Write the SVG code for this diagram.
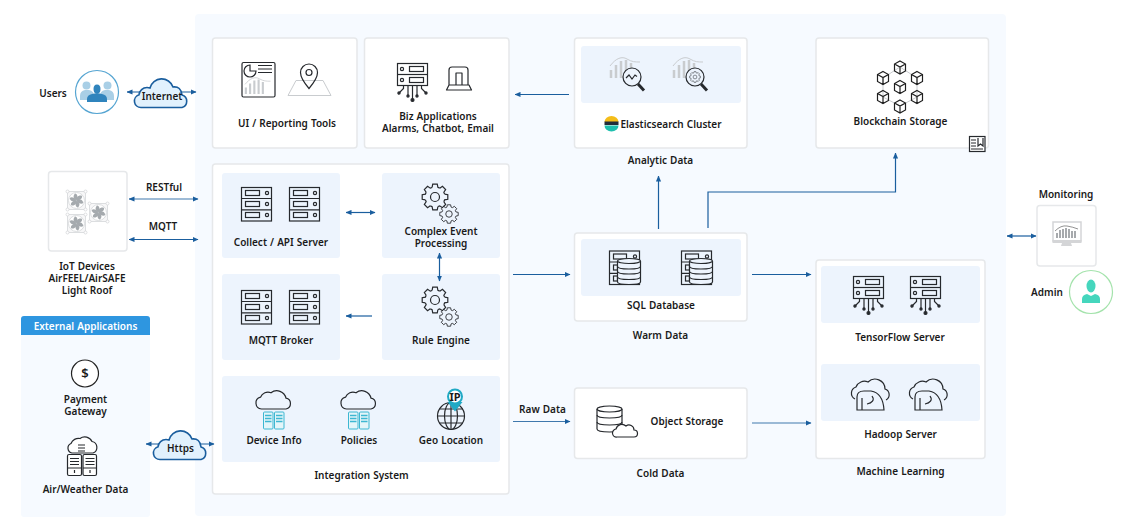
<svg xmlns="http://www.w3.org/2000/svg" xmlns:xlink="http://www.w3.org/1999/xlink" width="1130" height="520" viewBox="0 0 1130 520">
<style>
text{font-family:"Noto Sans","Liberation Sans",sans-serif;font-size:10px;font-weight:600;fill:#1a1a1a;text-anchor:middle;word-spacing:.5px}
.card{fill:#fff;stroke:#e6e8ea;stroke-width:1.5}
.inner{fill:#edf4fd}
.ln{fill:none;stroke:#26292d;stroke-width:1.2}
.lg{fill:none;stroke:#c9cccf;stroke-width:1}
.wire{fill:none;stroke:#1a5e9e;stroke-width:1.2}
.cloud{fill:#e1f1fd;stroke:#1a5e9e;stroke-width:1.6}
</style>
<defs>
<marker id="ah" viewBox="0 0 6 6" refX="5.500" refY="3" markerWidth="6" markerHeight="6" orient="auto-start-reverse" markerUnits="userSpaceOnUse"><path d="M0 .4L6 3L0 5.600z" fill="#1a5e9e"/></marker>
<g id="rack3" class="ln"><rect x=".5" y=".5" width="30" height="33.500"/><path d="M.5 11.500h30M.5 22.800h30"/><rect x="4.500" y="3.500" width="14" height="5"/><rect x="4.500" y="14.500" width="14" height="5"/><rect x="4.500" y="25.500" width="14" height="5"/><circle cx="26" cy="6" r="1.600"/><circle cx="26" cy="17" r="1.600"/><circle cx="26" cy="28" r="1.600"/></g>
<g id="rackio" class="ln"><rect x=".5" y=".5" width="30" height="22"/><path d="M.5 11.500h30"/><rect x="12.500" y="3.500" width="14" height="5"/><rect x="12.500" y="14.500" width="14" height="5"/><circle cx="5" cy="6" r="1.600"/><circle cx="5" cy="17" r="1.600"/><path d="M15.500 23v14M11 23v10M20 23v10M6.500 23v2.500L2 30M24.500 23v2.500L29 30"/><circle cx="15.500" cy="37" r="1.500" fill="#26292d"/><circle cx="11" cy="33" r="1.100" fill="#26292d"/><circle cx="20" cy="33" r="1.100" fill="#26292d"/><circle cx="2" cy="30" r="1.100" fill="#26292d"/><circle cx="29" cy="30" r="1.100" fill="#26292d"/></g>
<path id="tooth" d="M-2.900-9.600L-2.260-12.800H2.260L2.900-9.600L4.700-8.830" class="ln"/>
<g id="gear"><use xlink:href="#tooth"/><use xlink:href="#tooth" transform="rotate(45)"/><use xlink:href="#tooth" transform="rotate(90)"/><use xlink:href="#tooth" transform="rotate(135)"/><use xlink:href="#tooth" transform="rotate(180)"/><use xlink:href="#tooth" transform="rotate(225)"/><use xlink:href="#tooth" transform="rotate(270)"/><use xlink:href="#tooth" transform="rotate(315)"/><circle r="4.500" class="ln"/></g>
<g id="gears"><use xlink:href="#gear"/><g transform="translate(14 17) scale(.72)"><circle r="12" fill="#edf4fd"/><use xlink:href="#gear"/></g></g>
<g id="cloudrack"><path d="M6.500 23a6 6 0 0 1-1-11.800a8 8 0 0 1 10.500-4.500a9.500 9.500 0 0 1 15 5.500a5.500 5.500 0 0 1 0 10.800z" class="ln" transform="translate(0 -2)"/><g fill="#e4f5f9" stroke="#3db7d2" stroke-width="1"><rect x="8.500" y="24" width="9.500" height="17" rx="1"/><rect x="19.500" y="24" width="9.500" height="17" rx="1"/></g><path d="M10 27.500h6.500M10 30.500h6.500M10 33.500h6.500M21 27.500h6.500M21 30.500h6.500M21 33.500h6.500" stroke="#3db7d2" stroke-width="1.500"/></g>
<g id="dbrack"><g class="ln"><rect x=".5" y=".5" width="30" height="33.500"/><path d="M.5 11.500h8M.5 22.800h8"/><rect x="4.500" y="3.500" width="13" height="5"/><rect x="4.500" y="14.500" width="4" height="5"/><rect x="4.500" y="25.500" width="4" height="5"/><circle cx="26" cy="6" r="1.600"/></g><g class="ln"><path d="M8.500 10.500v21c0 1.500 4 2.500 11.500 2.500s11.500-1 11.500-2.500v-21" fill="#edf4fd"/><ellipse cx="20" cy="10.500" rx="11.500" ry="2.500" fill="#edf4fd"/><path d="M8.500 16c0 1.500 4 2.500 11.500 2.500s11.500-1 11.500-2.500M8.500 21c0 1.500 4 2.500 11.500 2.500s11.500-1 11.500-2.500M8.500 26.500c0 1.500 4 2.500 11.500 2.500s11.500-1 11.500-2.500"/></g></g>
<g id="hadoop"><path d="M8 24a6.500 6.500 0 0 1 1-12a9 9 0 0 1 12-5a10 10 0 0 1 17 7a6 6 0 0 1 1 11" class="ln"/><path d="M10 35V22q0-6 7-6h7q12 2 13 19z" class="ln" fill="#edf4fd"/><path d="M15 35V23M25 21c3 4 0 7-5 8" class="ln"/></g>
<g id="chart" class="lg"><path d="M1 20v-8M6 20v-13M11 20V3M16 20V2M21 20V5" stroke-width="2.500"/><path d="M0 8C6 0 12-2 17 1s8 3 13 3"/></g>
<path id="blade" d="M0 0C-3-1-4-4.500-1.500-7C.5-7 2-4 0 0z" fill="#a5aaae"/>
<g id="fan"><rect x="1.500" y="1.500" width="18" height="18" fill="#f7f7f8" stroke="#dcdee0"/><g fill="#fff" stroke="#d4d6d8" stroke-width=".8"><circle cx="1.500" cy="1.500" r="1.500"/><circle cx="19.500" cy="1.500" r="1.500"/><circle cx="1.500" cy="19.500" r="1.500"/><circle cx="19.500" cy="19.500" r="1.500"/></g><circle cx="10.500" cy="10.500" r="8" fill="#fff" stroke="#dcdee0"/><g transform="translate(10.500 10.500)"><use xlink:href="#blade"/><use xlink:href="#blade" transform="rotate(60)"/><use xlink:href="#blade" transform="rotate(120)"/><use xlink:href="#blade" transform="rotate(180)"/><use xlink:href="#blade" transform="rotate(240)"/><use xlink:href="#blade" transform="rotate(300)"/></g></g>
<g id="cube" fill="none" stroke="#1f1f1f" stroke-width="1.200"><path d="M5.500 0L11 3v7l-5.500 3L0 10V3zM0 3l5.500 3L11 3M5.500 6v7"/></g>
</defs>

<rect x="195" y="14" width="811" height="502" rx="4" fill="#f6faff"/>

<g id="users"><text x="53" y="97">Users</text><circle cx="97" cy="92" r="21.500" fill="#fff" stroke="#56a5d2" stroke-width="1.200"/>
<g fill="#a9cfe6"><circle cx="86.500" cy="85.500" r="4"/><circle cx="107.500" cy="85.500" r="4"/><path d="M80 100v-4q0-5 5-6h4q5 1 5 6v4zM100 100v-4q0-5 5-6h4q5 1 5 6v4z"/></g>
<g fill="#2f84bd"><ellipse cx="97" cy="89" rx="3.500" ry="4.500"/><path d="M87 102v-3q0-4 5-5l5-1 5 1q5 1 5 5v3z"/></g></g>

<g id="ui-tools"><rect class="card" x="212.500" y="38" width="144.500" height="110" rx="3"/>
<rect x="242" y="62.500" width="33" height="34.500" rx="1.500" class="ln" stroke-width="1.400"/><path d="M250 65a6 6 0 1 0 6 6h-6z" class="ln"/><path d="M258 65.500h14M258 69h14M258 72.500h14" class="ln" stroke-width="1.800"/><use xlink:href="#chart" transform="translate(245 78) scale(.85 .8)"/>
<path d="M288 95.500l8-15h27l8 15z" class="lg" fill="#fff"/><path d="M309 88.500q-8.500-10-8.500-16a8.500 8.500 0 0 1 17 0q0 6-8.500 16z" class="ln" fill="#fff" stroke-width="1.300"/><circle cx="309" cy="72.500" r="3" class="ln"/>
<text x="287" y="127">UI / Reporting Tools</text></g>

<g id="biz-apps"><rect class="card" x="364.500" y="38" width="144.500" height="110" rx="3"/>
<use xlink:href="#rackio" x="397" y="63"/><path d="M449 85V70q0-3 3-3h13q3 0 3 3v15M449 85l-2.500 5h25l-2.500-5zM456 85V73h6v12" class="ln" stroke-linejoin="round"/>
<text x="438" y="120">Biz Applications</text><text x="438" y="132">Alarms, Chatbot, Email</text></g>

<g id="analytic"><rect class="card" x="574.500" y="38" width="172.500" height="110" rx="3"/><rect class="inner" x="581" y="46" width="160" height="57" rx="3"/>
<use xlink:href="#chart" transform="translate(610 58)"/><use xlink:href="#chart" transform="translate(673 58)"/>
<g class="ln" stroke-width="1.300"><circle cx="632" cy="77" r="9" fill="#edf4fd"/><path d="M638 84l6 6.500" stroke-width="3"/><path d="M626 78l3-3 3 4 3-4 2 1.500"/><circle cx="695" cy="77" r="9" fill="#edf4fd"/><path d="M701 84l6 6.500" stroke-width="3"/></g><use xlink:href="#gear" transform="translate(695 77) scale(.42)"/>
<path d="M604.500 122a7 6 0 0 1 14 0z" fill="#f4bd19"/><rect x="604.500" y="121.500" width="14" height="3.500" fill="#222d3a"/><path d="M604.500 125.500h14a7 6 0 0 1-14 0z" fill="#1fbfae"/>
<text x="671" y="127.500">Elasticsearch Cluster</text><text x="660.500" y="164">Analytic Data</text></g>

<g id="blockchain"><rect class="card" x="816" y="38" width="172.500" height="110" rx="3"/>
<path d="M900 67l17 11v19l-17 9-17-9V78z" class="lg" stroke="#e3e4e6"/>
<use xlink:href="#cube" x="894.500" y="61"/><use xlink:href="#cube" x="877.500" y="71.500"/><use xlink:href="#cube" x="911.500" y="71.500"/><use xlink:href="#cube" x="894.500" y="80.500"/><use xlink:href="#cube" x="877.500" y="90.500"/><use xlink:href="#cube" x="911.500" y="90.500"/><use xlink:href="#cube" x="894.500" y="100"/>
<text x="900.500" y="125">Blockchain Storage</text>
<g class="ln"><rect x="969.500" y="136.500" width="15.500" height="15" fill="#fff"/><path d="M971 140h5M971 143h5M971 146h5M971 149h12M978 138v8l2.500-2 2.500 2v-8"/></g></g>

<g id="integration"><rect class="card" x="212.500" y="164" width="296.500" height="330" rx="3"/><text x="361.500" y="479">Integration System</text></g>

<g id="collect"><rect class="inner" x="222" y="173" width="118" height="85" rx="3"/><use xlink:href="#rack3" x="241" y="187"/><use xlink:href="#rack3" x="289" y="187"/><text x="281" y="246">Collect / API Server</text></g>
<g id="cep"><rect class="inner" x="382" y="173" width="118" height="85" rx="3"/><use xlink:href="#gears" transform="translate(435 197)"/><text x="441" y="235">Complex Event<tspan x="441" dy="12">Processing</tspan></text></g>
<g id="mqtt"><rect class="inner" x="222" y="274" width="118" height="86" rx="3"/><use xlink:href="#rack3" x="241" y="290"/><use xlink:href="#rack3" x="289" y="290"/><text x="281" y="344">MQTT Broker</text></g>
<g id="rule"><rect class="inner" x="382" y="274" width="118" height="86" rx="3"/><use xlink:href="#gears" transform="translate(435 300)"/><text x="441" y="344">Rule Engine</text></g>

<rect class="inner" x="222" y="376" width="278" height="86" rx="3"/>
<g id="device-info"><use xlink:href="#cloudrack" transform="translate(255 388)"/><text x="274" y="444">Device Info</text></g>
<g id="policies"><use xlink:href="#cloudrack" transform="translate(340 388)"/><text x="359" y="444">Policies</text></g>
<g id="geo"><g class="ln"><circle cx="451" cy="416" r="13.500"/><ellipse cx="451" cy="416" rx="6.500" ry="13.500"/><path d="M451 402.500v27M437.500 416h27M439.500 409h23M439.500 423h23"/></g>
<path d="M447.500 402L455 411.500L462.500 402z" fill="#20a9c5"/><circle cx="455" cy="396.500" r="7" fill="#fff" stroke="#20a9c5" stroke-width="2"/><text x="455" y="400.500" style="font-size:11px;font-weight:700;word-spacing:0">IP</text><text x="451" y="444">Geo Location</text></g>

<g id="warm"><rect class="card" x="574.500" y="233" width="172.500" height="88" rx="3"/><rect class="inner" x="581" y="239" width="160" height="57" rx="3"/><use xlink:href="#dbrack" x="609" y="250.500"/><use xlink:href="#dbrack" x="681" y="250.500"/><text x="661" y="309">SQL Database</text><text x="660.500" y="339">Warm Data</text></g>

<g id="cold"><rect class="card" x="574.500" y="388" width="172.500" height="70.500" rx="3"/>
<g class="ln"><path d="M597 409v20q0 3 12.500 3t12.500-3v-20"/><ellipse cx="609.500" cy="409" rx="12.500" ry="3"/><path d="M597 415q0 3 12.500 3t12.500-3M597 422q0 3 12.500 3t12.500-3"/><path d="M617 437a4 4 0 0 1-1-8a6 6 0 0 1 10-3a5 5 0 0 1 8 4a3.500 3.500 0 0 1 0 7z" fill="#fff"/></g>
<text x="687" y="425">Object Storage</text><text x="660.500" y="477">Cold Data</text></g>

<g id="machine-learning"><rect class="card" x="816" y="260" width="169" height="198.500" rx="3"/><text x="900.500" y="475">Machine Learning</text></g>
<g id="tensorflow"><rect class="inner" x="821" y="266" width="159" height="57" rx="3"/><use xlink:href="#rackio" x="853" y="276"/><use xlink:href="#rackio" x="910" y="276"/><text x="900" y="341">TensorFlow Server</text></g>
<g id="hadoop-server"><rect class="inner" x="821" y="364" width="159" height="57" rx="3"/><use xlink:href="#hadoop" transform="translate(847 375)"/><use xlink:href="#hadoop" transform="translate(905 375)"/><text x="900.500" y="438">Hadoop Server</text></g>

<g id="iot"><rect class="card" x="48.500" y="171.500" width="78.500" height="79.500" rx="3"/><use xlink:href="#fan" x="66" y="190"/><use xlink:href="#fan" x="88" y="202"/><use xlink:href="#fan" x="66" y="213"/>
<text x="87" y="270">IoT Devices</text><text x="87" y="282">AirFEEL/AirSAFE</text><text x="87" y="294">Light Roof</text></g>
<text x="164" y="191">RESTful</text><text x="163" y="230">MQTT</text>
<text x="542.500" y="413">Raw Data</text>

<g id="external"><rect x="21" y="316" width="129" height="201" rx="3" fill="#f6faff"/><path d="M21 335v-16q0-3 3-3h123q3 0 3 3v16z" fill="#2e96e0"/><text x="85.500" y="330" style="fill:#fff">External Applications</text>
<circle cx="85" cy="373.500" r="13.500" fill="#fff" stroke="#222" stroke-width="1.200"/><text x="85" y="378" style="font-size:13px">$</text>
<text x="85.500" y="403">Payment</text><text x="85.500" y="415">Gateway</text>
<g class="ln"><path d="M72 453a5 5 0 0 1-1-9.500a8 8 0 0 1 9-5a8 8 0 0 1 12 3a6 6 0 0 1 1 11.500z" fill="#fff"/><path d="M78 445h7M78 448h7M78 451h7"/><rect x="67.500" y="454.500" width="14" height="21" rx="1.500" fill="#fff"/><rect x="83" y="454.500" width="13.500" height="21" rx="1.500" fill="#fff"/><path d="M70 458.500h9M70 461.500h9M70 464.500h9M85.500 458.500h9M85.500 461.500h9M85.500 464.500h9M67.500 468h14M83 468h13.500M74.500 470v3M90 470v3"/></g>
<text x="85.500" y="493">Air/Weather Data</text></g>

<g id="monitoring"><text x="1066" y="198">Monitoring</text><rect class="card" x="1037" y="205.500" width="59" height="60.500" rx="3"/>
<rect x="1053" y="222" width="28" height="19" fill="#fff" stroke="#d4d5d7" stroke-width="1.500"/><rect x="1052.500" y="240" width="29" height="3" fill="#d4d5d7"/><path d="M1062 243h9l1 3h-11z" fill="#d4d5d7"/>
<path d="M1057 238v-5M1060 238v-8M1063 238v-9M1066 238v-10M1069 238v-9M1072 238v-7M1075 238v-7" stroke="#8b8e92" stroke-width="1.500"/><path d="M1055 231q6-6 12-5t11 3" fill="none" stroke="#777" stroke-width=".8"/></g>

<g id="admin"><text x="1047" y="296">Admin</text><circle cx="1091" cy="292" r="21.500" fill="#fff" stroke="#a4e3ac" stroke-width="1.200"/><ellipse cx="1091" cy="286" rx="4.500" ry="6.500" fill="#45d6bd"/><path d="M1082 303v-4q0-4 5-5l4 2 4-2q5 1 5 5v4z" fill="#45d6bd"/></g>

<g id="connectors" class="wire">
<path d="M127 92H196" marker-start="url(#ah)" marker-end="url(#ah)"/>
<path d="M129 199H198" stroke="#3f78ad" marker-start="url(#ah)" marker-end="url(#ah)"/>
<path d="M129 239.500H198" marker-start="url(#ah)" marker-end="url(#ah)"/>
<path d="M146 444H214" marker-start="url(#ah)" marker-end="url(#ah)"/>
<path d="M346 212.500H375" marker-start="url(#ah)" marker-end="url(#ah)"/>
<path d="M439.500 253V281" marker-start="url(#ah)" marker-end="url(#ah)"/>
<path d="M372 316H346" marker-end="url(#ah)"/>
<path d="M513 274.500H570" marker-end="url(#ah)"/>
<path d="M513 421.500H570" stroke="#3f78ad" marker-end="url(#ah)"/>
<path d="M752 274.500H811" marker-end="url(#ah)"/>
<path d="M752 423H811" stroke="#3f78ad" marker-end="url(#ah)"/>
<path d="M569 94.500H515" marker-end="url(#ah)"/>
<path d="M658.500 229V176" marker-end="url(#ah)"/>
<path d="M708 228V192H895.500V153" marker-end="url(#ah)"/>
<path d="M1007 236H1036" marker-start="url(#ah)" marker-end="url(#ah)"/>
</g>

<g id="internet"><path id="cloudshape" class="cloud" d="M141 107.500a6.500 6.500 0 0 1-2-12.700a8 8 0 0 1 8-7.300q1.500 0 3 .5a12 12 0 0 1 23-1q8-1 9 8a6.500 6.500 0 0 1 0 12.500z"/><text x="162" y="100">Internet</text></g>
<g id="https"><use xlink:href="#cloudshape" x="19" y="352"/><text x="180.500" y="452">Https</text></g>
</svg>
